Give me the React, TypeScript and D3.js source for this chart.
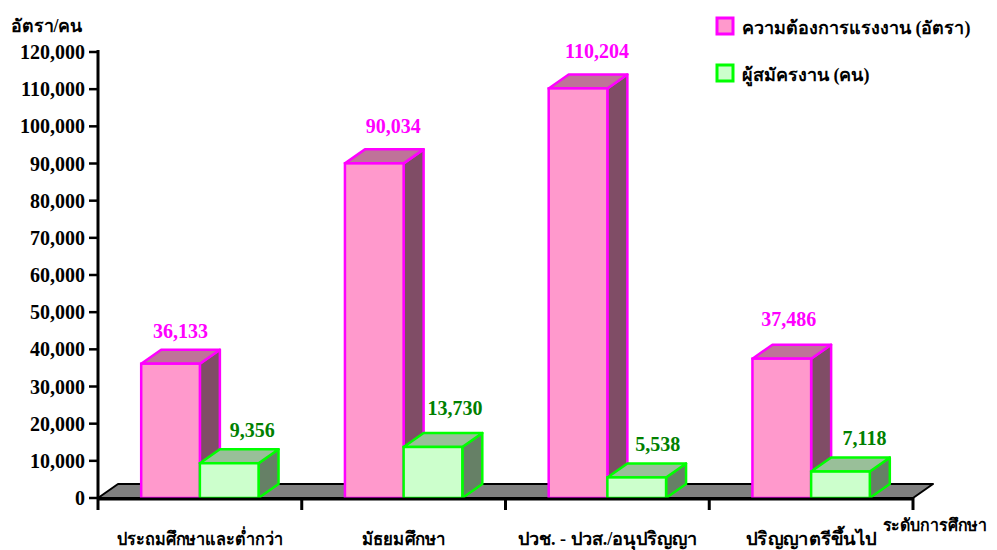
import React from "react";
import * as d3 from "d3";

const categories = ["ประถมศึกษาและต่ำกว่า", "มัธยมศึกษา", "ปวช. - ปวส./อนุปริญญา", "ปริญญาตรีขึ้นไป"];
const seriesNames = ["ความต้องการแรงงาน (อัตรา)", "ผู้สมัครงาน (คน)"];
const demandValues = [36133, 90034, 110204, 37486];
const applicantValues = [9356, 13730, 5538, 7118];
const yTicks = [0, 10000, 20000, 30000, 40000, 50000, 60000, 70000, 80000, 90000, 100000, 110000, 120000];

// label placement tweaks (layout only)
const demandLabelDx = [10, 19, 19, 7];
const demandLabelGap = [12, 16, 16, 19];
const applicantLabelDx = [23, 22, 21, 24];
const applicantLabelGap = [12, 18, 12, 13];
const categoryLabelWidths = [166, 84, 179, 130];

const W = 997;
const H = 550;
const X0 = 98;
const X1 = 913;
const Y0 = 498;
const Y1 = 52;
const DX = 20;
const DY = -14;
const FONT = "'Times New Roman', 'Liberation Serif', serif";

const styles = [
  { front: "#FF99CC", top: "#BF7399", side: "#804D66", stroke: "#FF00FF", label: "#FF00FF" },
  { front: "#CCFFCC", top: "#99BF99", side: "#668066", stroke: "#00FF00", label: "#008000" },
];

export default function App() {
  const x = d3.scaleBand<string>().domain(categories).range([X0, X1]).paddingInner(0).paddingOuter(0);
  const sub = d3.scaleBand<string>().domain(seriesNames).range([0, x.bandwidth()]).paddingInner(0).paddingOuter(0.736);
  const y = d3.scaleLinear().domain([0, 120000]).range([Y0, Y1]);
  const fmt = d3.format(",");
  const data = [demandValues, applicantValues];
  const dxs = [demandLabelDx, applicantLabelDx];
  const gaps = [demandLabelGap, applicantLabelGap];

  const bars: React.ReactNode[] = [];
  const labels: React.ReactNode[] = [];
  categories.forEach((c, ci) => {
    data.forEach((vals, si) => {
      const v = vals[ci];
      const st = styles[si];
      const xl = (x(c) as number) + (sub(seriesNames[si]) as number);
      const xr = xl + sub.bandwidth();
      const yt = y(v);
      const yb = y(0);
      const side = `M${xr},${yb} L${xr + DX},${yb + DY} L${xr + DX},${yt + DY} L${xr},${yt} Z`;
      const top = `M${xl},${yt} L${xl + DX},${yt + DY} L${xr + DX},${yt + DY} L${xr},${yt} Z`;
      bars.push(
        <g key={`${ci}-${si}`}>
          <path d={side} fill={st.side} stroke={st.stroke} strokeWidth={2.5} strokeLinejoin="round" />
          <path d={top} fill={st.top} stroke={st.stroke} strokeWidth={2.5} strokeLinejoin="round" />
          <rect x={xl} y={yt} width={xr - xl} height={yb - yt} fill={st.front} stroke={st.stroke} strokeWidth={2.5} />
        </g>
      );
      labels.push(
        <text
          key={`l-${ci}-${si}`}
          x={(xl + xr) / 2 + dxs[si][ci]}
          y={yt + DY - gaps[si][ci]}
          textAnchor="middle"
          fontFamily={FONT}
          fontWeight="bold"
          fontSize={20}
          fill={st.label}
        >
          {fmt(v)}
        </text>
      );
    });
  });

  const floor = `M${X0},${Y0} L${X0 + DX},${Y0 + DY} L${X1 + DX},${Y0 + DY} L${X1},${Y0} Z`;

  return (
    <svg width={W} height={H} style={{ position: "absolute", left: 0, top: 0, background: "#fff" }}>
      <path d={floor} fill="#808080" stroke="#000" strokeWidth={2} strokeLinejoin="round" />
      {bars}
      {labels}
      {/* y axis */}
      <line x1={X0} y1={Y1 - 2} x2={X0} y2={Y0 + 1} stroke="#000" strokeWidth={3} />
      {yTicks.map((t) => (
        <g key={t}>
          <line x1={X0 - 9} x2={X0} y1={y(t)} y2={y(t)} stroke="#000" strokeWidth={2.5} />
          <text x={X0 - 13} y={y(t) + 7} textAnchor="end" fontFamily={FONT} fontWeight="bold" fontSize={20} fill="#000">
            {fmt(t)}
          </text>
        </g>
      ))}
      {/* x axis */}
      <line x1={X0 - 1} y1={Y0 + 1} x2={X1} y2={Y0 + 1} stroke="#000" strokeWidth={3} />
      {[...categories.map((c) => x(c) as number), X1].map((p, i) => (
        <line key={i} x1={p} x2={p} y1={Y0} y2={Y0 + 12} stroke="#000" strokeWidth={3} />
      ))}
      {categories.map((c, i) => (
        <text
          key={c}
          x={(x(c) as number) + x.bandwidth() / 2}
          y={545}
          textAnchor="middle"
          fontFamily={FONT}
          fontWeight="bold"
          fontSize={18}
          fill="#000"
          textLength={categoryLabelWidths[i]}
          lengthAdjust="spacingAndGlyphs"
        >
          {c}
        </text>
      ))}
      <text
        x={883}
        y={531}
        fontFamily={FONT}
        fontWeight="bold"
        fontSize={17}
        fill="#000"
        textLength={104}
        lengthAdjust="spacingAndGlyphs"
      >
        ระดับการศึกษา
      </text>
      <text x={11} y={32} fontFamily={FONT} fontWeight="bold" fontSize={18} fill="#000" textLength={71} lengthAdjust="spacingAndGlyphs">
        อัตรา/คน
      </text>
      {/* legend */}
      {seriesNames.map((s, i) => (
        <g key={s}>
          <rect x={717} y={18 + i * 47} width={16} height={16} fill={styles[i].front} stroke={styles[i].stroke} strokeWidth={3} />
          <text x={742} y={34 + i * 47} fontFamily={FONT} fontWeight="bold" fontSize={18} fill="#000">
            {s}
          </text>
        </g>
      ))}
    </svg>
  );
}
